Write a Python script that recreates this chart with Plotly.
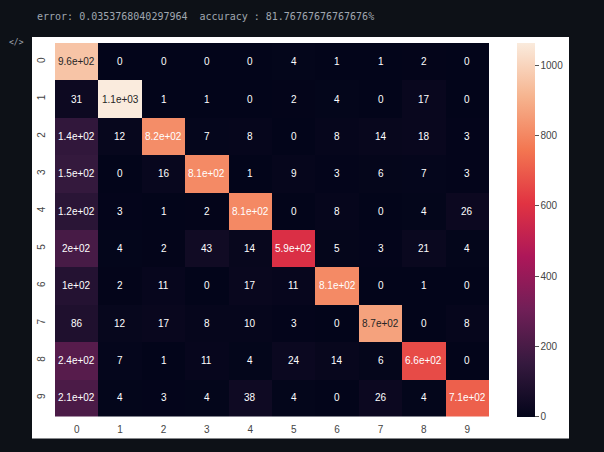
import plotly.graph_objects as go

labels = [str(i) for i in range(10)]
matrix = [
    [957, 0, 0, 0, 0, 4, 1, 1, 2, 0],
    [31, 1065, 1, 1, 0, 2, 4, 0, 17, 0],
    [140, 12, 818, 7, 8, 0, 8, 14, 18, 3],
    [150, 0, 16, 809, 1, 9, 3, 6, 7, 3],
    [120, 3, 1, 2, 808, 0, 8, 0, 4, 26],
    [200, 4, 2, 43, 14, 588, 5, 3, 21, 4],
    [100, 2, 11, 0, 17, 11, 809, 0, 1, 0],
    [86, 12, 17, 8, 10, 3, 0, 868, 0, 8],
    [240, 7, 1, 11, 4, 24, 14, 6, 662, 0],
    [210, 4, 3, 4, 38, 4, 0, 26, 4, 711],
]
header = "error: 0.0353768040297964  accuracy : 81.76767676767676%"
cbar_ticks = [0, 200, 400, 600, 800, 1000]

W, H = 604, 452
rocket = [
    (0.0, "#03051a"), (0.143, "#35193e"), (0.286, "#701f57"), (0.429, "#ad1759"),
    (0.571, "#e13342"), (0.714, "#f37651"), (0.857, "#f6b48f"), (1.0, "#faebdd"),
]

def hex2rgb(h):
    h = h.lstrip("#")
    return [int(h[i:i + 2], 16) / 255 for i in (0, 2, 4)]

def cmap(t):
    for (a, ca), (b, cb) in zip(rocket[:-1], rocket[1:]):
        if t <= b:
            f = (t - a) / (b - a) if b > a else 0
            A, B = hex2rgb(ca), hex2rgb(cb)
            return [A[k] + f * (B[k] - A[k]) for k in range(3)]
    return hex2rgb(rocket[-1][1])

def lum(rgb):
    c = [v / 12.92 if v <= 0.03928 else ((v + 0.055) / 1.055) ** 2.4 for v in rgb]
    return 0.2126 * c[0] + 0.7152 * c[1] + 0.0722 * c[2]

zmax = max(max(r) for r in matrix)

px = lambda x: x / W
py = lambda y: 1 - y / H

fig = go.Figure(go.Heatmap(
    z=matrix, x=list(range(10)), y=list(range(10)),
    colorscale=[[a, c] for a, c in rocket], zmin=0, zmax=zmax,
    xgap=0, ygap=0, hoverinfo="skip",
    colorbar=dict(
        x=px(517), xanchor="left", y=py(416.5), yanchor="bottom",
        xpad=0, ypad=0,
        len=373.5, lenmode="pixels", thickness=18, thicknessmode="pixels",
        outlinewidth=0, tickvals=cbar_ticks, ticks="outside", ticklen=4,
        tickcolor="#555555", tickfont=dict(family="Liberation Sans", size=10, color="#444444"),
    ),
))

annotations = []
for i, row in enumerate(matrix):
    for j, v in enumerate(row):
        col = "#262626" if lum(cmap(v / zmax)) > 0.408 else "#ffffff"
        annotations.append(dict(
            x=j, y=i, xref="x", yref="y", text=format(v, ".2g"), showarrow=False,
            font=dict(family="Liberation Sans", size=10, color=col),
        ))
annotations.append(dict(
    x=px(35), y=py(16), xref="paper", yref="paper", xanchor="left", yanchor="middle",
    text=header, showarrow=False,
    font=dict(family="DejaVu Sans Mono", size=10, color="#a0a7b0"),
))
annotations.append(dict(
    x=px(16), y=py(43), xref="paper", yref="paper", xanchor="center", yanchor="middle",
    text="&lt;/&gt;", showarrow=False,
    font=dict(family="DejaVu Sans Mono", size=8, color="#a0a7b0"),
))

fig.update_layout(
    width=W, height=H, margin=dict(l=0, r=0, t=0, b=0),
    paper_bgcolor="#0d1117", plot_bgcolor="#ffffff",
    annotations=annotations,
    shapes=[dict(type="rect", xref="paper", yref="paper", x0=px(32), x1=px(569),
                 y0=py(438.5), y1=py(37), fillcolor="#ffffff", line_width=0, layer="below")],
    xaxis=dict(domain=[px(55), px(489)], tickvals=list(range(10)), ticktext=labels,
               showgrid=False, zeroline=False, ticks="outside", ticklen=3,
               tickcolor="rgba(0,0,0,0)", range=[-0.5, 9.5],
               tickfont=dict(family="Liberation Sans", size=10, color="#444444")),
    yaxis=dict(domain=[py(416.5), py(43)], tickvals=list(range(10)), ticktext=labels,
               showgrid=False, zeroline=False, ticks="outside", ticklen=5,
               tickcolor="rgba(0,0,0,0)", range=[9.5, -0.5], tickangle=-90,
               tickfont=dict(family="Liberation Sans", size=10, color="#444444")),
)

fig.write_html("out.html")
